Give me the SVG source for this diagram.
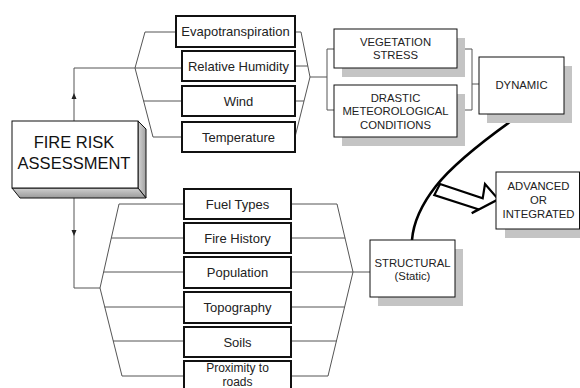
<svg xmlns="http://www.w3.org/2000/svg" width="580" height="388" viewBox="0 0 580 388">
<defs>
<style>
.t{font-family:"Liberation Sans",Arial,sans-serif;fill:#222;text-anchor:middle}
.f{font-size:13px}
.p{font-size:12px}
.c{font-size:11.3px}
.big{font-size:16.5px;fill:#111}
.fb{fill:#fff;stroke:#111;stroke-width:2}
.cb{fill:#fff;stroke:#111;stroke-width:1}
.sh{fill:#c4c4c4}
.ln{fill:none;stroke:#555;stroke-width:1}
</style>
<linearGradient id="g1" x1="0" y1="0" x2="0" y2="1">
<stop offset="0" stop-color="#d0d0d0"/><stop offset="1" stop-color="#9a9a9a"/>
</linearGradient>
<linearGradient id="g2" x1="0" y1="0" x2="1" y2="0">
<stop offset="0" stop-color="#d4d4d4"/><stop offset="1" stop-color="#a0a0a0"/>
</linearGradient>
</defs>
<rect width="580" height="388" fill="#fff"/>

<g id="connectors">
<polyline class="ln" points="74,121 74,68 135,68"/>
<polyline class="ln" points="176,32 145,32 135,68 153,137 182,137"/>
<line class="ln" x1="135" y1="68" x2="182" y2="68"/>
<line class="ln" x1="143.5" y1="101" x2="182" y2="101"/>
<polygon points="74,93 71.5,99 76.5,99" fill="#222"/>

<polyline class="ln" points="295,32 301,32 310,77 295,137"/>
<line class="ln" x1="295" y1="66" x2="307.8" y2="66"/>
<line class="ln" x1="295" y1="101" x2="304" y2="101"/>
<line class="ln" x1="310" y1="77" x2="327" y2="77"/>
<polyline class="ln" points="334,49 327,49 327,110 334,110"/>

<polyline class="ln" points="457,49 472,49 472,110 457,110"/>
<line class="ln" x1="472" y1="84" x2="479" y2="84"/>

<polyline class="ln" points="74,198 74,288 100,288"/>
<polygon points="74,236 71.5,230 76.5,230" fill="#222"/>
<polyline class="ln" points="184,204 119,204 100,288 122,376 184,376"/>
<line class="ln" x1="111.3" y1="238" x2="184" y2="238"/>
<line class="ln" x1="103.6" y1="272" x2="184" y2="272"/>
<line class="ln" x1="104.5" y1="307" x2="184" y2="307"/>
<line class="ln" x1="113" y1="341" x2="184" y2="341"/>

<polyline class="ln" points="291,204 337,204 353,272 328,376 291,376"/>
<line class="ln" x1="291" y1="238" x2="345.1" y2="238"/>
<line class="ln" x1="291" y1="272" x2="370" y2="272"/>
<line class="ln" x1="291" y1="307" x2="344.7" y2="307"/>
<line class="ln" x1="291" y1="341" x2="336.6" y2="341"/>

<path d="M521 114 Q458 158 436 186 T412 240" fill="none" stroke="#000" stroke-width="2.6"/>
<polygon points="440,184 482.7,198.3 485,184 498.3,199.3 471.7,213.3 478.3,209.3 434.3,195" fill="#fff" stroke="#000" stroke-width="2.2" stroke-linejoin="miter"/>
</g>

<g id="fire-risk">
<polygon points="138,121 146,129 146,198 138,188" fill="url(#g2)" stroke="#111" stroke-width="1"/>
<polygon points="12,188 138,188 146,198 20,198" fill="url(#g1)" stroke="#111" stroke-width="1"/>
<rect class="cb" x="12" y="121" width="126" height="67"/>
<text class="t big" x="74" y="148">FIRE RISK</text>
<text class="t big" x="74" y="169">ASSESSMENT</text>
</g>

<g id="evapotranspiration"><rect class="fb" x="176" y="16" width="119" height="31"/><text class="t f" x="235.5" y="36">Evapotranspiration</text></g>
<g id="relative-humidity"><rect class="fb" x="182" y="51" width="113" height="30"/><text class="t f" x="238.5" y="70.5">Relative Humidity</text></g>
<g id="wind"><rect class="fb" x="182" y="86" width="113" height="30"/><text class="t f" x="238.5" y="105.5">Wind</text></g>
<g id="temperature"><rect class="fb" x="182" y="122" width="113" height="30"/><text class="t f" x="238.5" y="141.5">Temperature</text></g>

<g id="vegetation-stress"><rect class="sh" x="342" y="38" width="123" height="39"/><rect class="cb" x="334" y="29" width="123" height="39"/><text class="t c" x="395.5" y="46">VEGETATION</text><text class="t c" x="395.5" y="59">STRESS</text></g>
<g id="drastic"><rect class="sh" x="342" y="94" width="123" height="52"/><rect class="cb" x="334" y="85" width="123" height="52"/><text class="t c" x="395.5" y="101.5">DRASTIC</text><text class="t c" x="395.5" y="115">METEOROLOGICAL</text><text class="t c" x="395.5" y="129">CONDITIONS</text></g>
<g id="dynamic"><rect class="sh" x="487" y="66" width="85" height="57"/><rect class="cb" x="479" y="57" width="85" height="57"/><text class="t c" x="521.5" y="89">DYNAMIC</text></g>

<g id="fuel-types"><rect class="fb" x="184" y="189" width="107" height="30"/><text class="t f" x="237.5" y="208.5">Fuel Types</text></g>
<g id="fire-history"><rect class="fb" x="184" y="223" width="107" height="30"/><text class="t f" x="237.5" y="242.5">Fire History</text></g>
<g id="population"><rect class="fb" x="184" y="257" width="107" height="31"/><text class="t f" x="237.5" y="277">Population</text></g>
<g id="topography"><rect class="fb" x="184" y="292" width="107" height="31"/><text class="t f" x="237.5" y="312">Topography</text></g>
<g id="soils"><rect class="fb" x="184" y="327" width="107" height="30"/><text class="t f" x="237.5" y="346.5">Soils</text></g>
<g id="proximity"><rect class="fb" x="184" y="361" width="107" height="32"/><text class="t p" x="237.5" y="371.5">Proximity to</text><text class="t p" x="237.5" y="386">roads</text></g>

<g id="structural"><rect class="sh" x="378" y="249" width="85" height="57"/><rect class="cb" x="370" y="240" width="85" height="57"/><text class="t c" x="412.5" y="266.5">STRUCTURAL</text><text class="t c" x="412.5" y="280">(Static)</text></g>
<g id="advanced"><rect class="sh" x="505" y="181" width="84" height="57"/><rect class="cb" x="496" y="172" width="83.5" height="57"/><text class="t c" x="538.5" y="190">ADVANCED</text><text class="t c" x="538.5" y="204">OR</text><text class="t c" x="538.5" y="218">INTEGRATED</text></g>
</svg>
